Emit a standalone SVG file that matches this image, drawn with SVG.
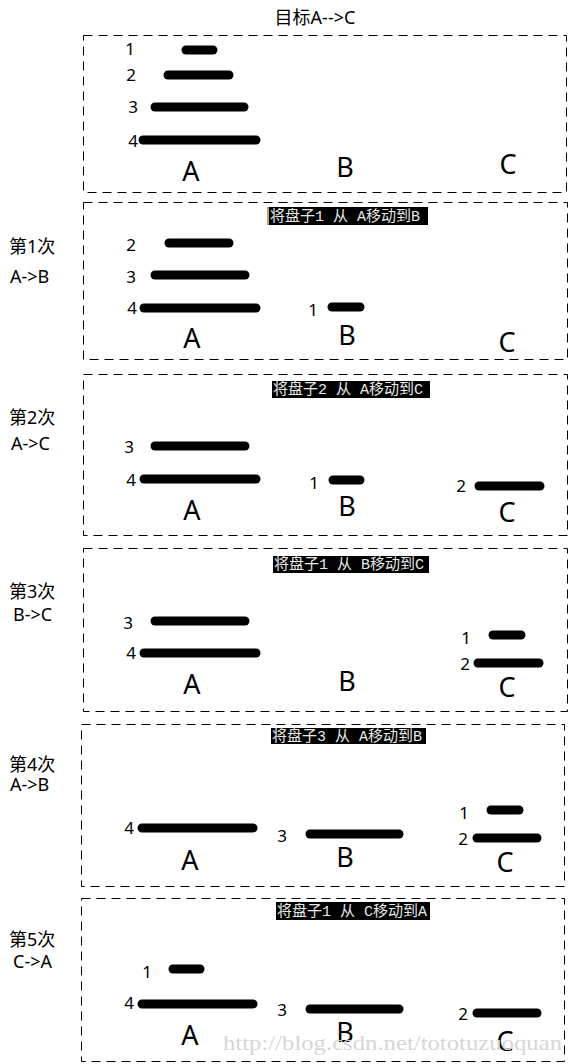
<svg xmlns="http://www.w3.org/2000/svg" width="574" height="1064" viewBox="0 0 574 1064">
<style>
.bg{fill:#ffffff}
.frame{fill:none;stroke:#000;stroke-width:1;stroke-dasharray:9 6}
.disk{stroke:#000;stroke-width:9;stroke-linecap:round}
.num{font-family:"Noto Sans","Liberation Sans",sans-serif;font-size:17px;fill:#000;text-anchor:middle}
.peg{font-family:"Noto Sans","Liberation Sans",sans-serif;font-size:27px;fill:#000;text-anchor:middle}
.side{font-family:"Noto Sans","Noto Sans CJK SC",sans-serif;font-size:18px;fill:#000}
.title{font-family:"Noto Sans","Noto Sans CJK SC",sans-serif;font-size:18px;fill:#000;text-anchor:middle}
.tagbox{fill:#000}
.tag{font-family:"Liberation Mono","Noto Sans CJK SC",monospace;font-size:15px;fill:#e8e8e8}
.wm{font-family:"Liberation Serif",serif;font-size:21px;fill:#d6d6d6}
</style>
<rect class="bg" x="0" y="0" width="574" height="1064"/>

<g id="title">
<text class="title" x="315" y="24">目标A--&gt;C</text>
</g>

<g id="panel0">
<rect class="frame" x="83.5" y="35.5" width="483" height="157"/>
<line class="disk" x1="186" y1="50" x2="213" y2="50"/>
<line class="disk" x1="168" y1="75" x2="229" y2="75"/>
<line class="disk" x1="155" y1="107" x2="244" y2="107"/>
<line class="disk" x1="143" y1="140" x2="256" y2="140"/>
<text class="num" x="130" y="55">1</text>
<text class="num" x="131" y="81">2</text>
<text class="num" x="133" y="113">3</text>
<text class="num" x="133" y="147">4</text>
<text class="peg" x="191" y="181">A</text>
<text class="peg" x="345" y="177">B</text>
<text class="peg" x="508" y="174">C</text>
</g>

<g id="panel1">
<rect class="frame" x="83.5" y="202.5" width="484" height="157"/>
<rect class="tagbox" x="267" y="207" width="161" height="18"/>
<rect x="267" y="207" width="2" height="18" fill="#c8a060"/>
<text class="tag" x="270" y="221">将盘子1 从 A移动到B</text>
<text class="side" x="9" y="253">第1次</text>
<text class="side" x="10" y="283">A-&gt;B</text>
<line class="disk" x1="169" y1="243" x2="229" y2="243"/>
<line class="disk" x1="155" y1="275" x2="245" y2="275"/>
<line class="disk" x1="144" y1="308" x2="256" y2="308"/>
<line class="disk" x1="332" y1="307" x2="360" y2="307"/>
<text class="num" x="131" y="251">2</text>
<text class="num" x="131" y="283">3</text>
<text class="num" x="132" y="314">4</text>
<text class="num" x="313" y="316">1</text>
<text class="peg" x="192" y="348">A</text>
<text class="peg" x="347" y="345">B</text>
<text class="peg" x="507" y="352">C</text>
</g>

<g id="panel2">
<rect class="frame" x="83.5" y="374.5" width="484" height="161"/>
<rect class="tagbox" x="272" y="381" width="158" height="17"/>
<text class="tag" x="273" y="394">将盘子2 从 A移动到C</text>
<text class="side" x="9" y="424">第2次</text>
<text class="side" x="11" y="450">A-&gt;C</text>
<line class="disk" x1="155" y1="446" x2="245" y2="446"/>
<line class="disk" x1="144" y1="479" x2="256" y2="479"/>
<line class="disk" x1="333" y1="480" x2="360" y2="480"/>
<line class="disk" x1="479" y1="486" x2="540" y2="486"/>
<text class="num" x="129" y="453">3</text>
<text class="num" x="131" y="486">4</text>
<text class="num" x="314" y="489">1</text>
<text class="num" x="461" y="492">2</text>
<text class="peg" x="192" y="520">A</text>
<text class="peg" x="347" y="516">B</text>
<text class="peg" x="507" y="522">C</text>
</g>

<g id="panel3">
<rect class="frame" x="83.5" y="548.5" width="484" height="163"/>
<rect class="tagbox" x="273" y="556" width="156" height="17"/>
<text class="tag" x="274" y="569">将盘子1 从 B移动到C</text>
<text class="side" x="9" y="598">第3次</text>
<text class="side" x="13" y="621">B-&gt;C</text>
<line class="disk" x1="155" y1="621" x2="245" y2="621"/>
<line class="disk" x1="144" y1="653" x2="256" y2="653"/>
<line class="disk" x1="493" y1="635" x2="521" y2="635"/>
<line class="disk" x1="478" y1="663" x2="539" y2="663"/>
<text class="num" x="128" y="629">3</text>
<text class="num" x="131" y="659">4</text>
<text class="num" x="466" y="644">1</text>
<text class="num" x="465" y="670">2</text>
<text class="peg" x="192" y="694">A</text>
<text class="peg" x="347" y="691">B</text>
<text class="peg" x="507" y="697">C</text>
</g>

<g id="panel4">
<rect class="frame" x="81.5" y="724.5" width="483" height="162"/>
<rect class="tagbox" x="271" y="728" width="155" height="16"/>
<text class="tag" x="272" y="741">将盘子3 从 A移动到B</text>
<text class="side" x="9" y="771">第4次</text>
<text class="side" x="10" y="791">A-&gt;B</text>
<line class="disk" x1="142" y1="828" x2="253" y2="828"/>
<line class="disk" x1="310" y1="834" x2="399" y2="834"/>
<line class="disk" x1="491" y1="810" x2="519" y2="810"/>
<line class="disk" x1="477" y1="838" x2="537" y2="838"/>
<text class="num" x="129" y="834">4</text>
<text class="num" x="282" y="842">3</text>
<text class="num" x="464" y="819">1</text>
<text class="num" x="463" y="845">2</text>
<text class="peg" x="190" y="870">A</text>
<text class="peg" x="345" y="867">B</text>
<text class="peg" x="505" y="872">C</text>
</g>

<g id="panel5">
<rect class="frame" x="81.5" y="898.5" width="483" height="163"/>
<rect class="tagbox" x="276" y="902" width="154" height="18"/>
<text class="tag" x="277" y="916">将盘子1 从 C移动到A</text>
<text class="side" x="9" y="946">第5次</text>
<text class="side" x="13" y="968">C-&gt;A</text>
<line class="disk" x1="173" y1="969" x2="200" y2="969"/>
<line class="disk" x1="142" y1="1004" x2="253" y2="1004"/>
<line class="disk" x1="310" y1="1009" x2="399" y2="1009"/>
<line class="disk" x1="477" y1="1013" x2="537" y2="1013"/>
<text class="num" x="147" y="978">1</text>
<text class="num" x="129" y="1009">4</text>
<text class="num" x="282" y="1016">3</text>
<text class="num" x="463" y="1020">2</text>
<text class="peg" x="190" y="1045">A</text>
<text class="peg" x="345" y="1042">B</text>
<text class="peg" x="505" y="1051">C</text>
</g>

<g id="watermark">
<text class="wm" x="223" y="1050" textLength="339" lengthAdjust="spacingAndGlyphs">http://blog.csdn.net/tototuzuoquan</text>
</g>
</svg>
